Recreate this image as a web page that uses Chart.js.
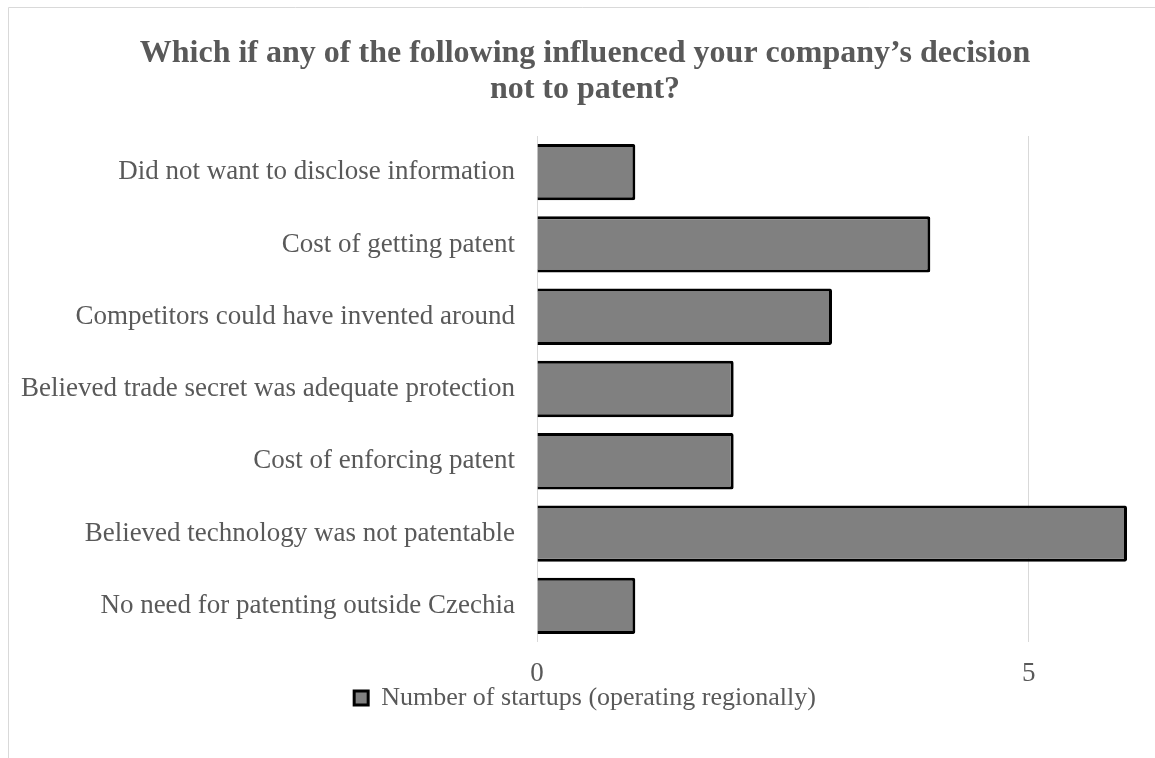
<!DOCTYPE html>
<meta charset="utf-8">
<title>Reasons for not patenting</title>
<style>
  html, body { margin: 0; background: #fff; overflow: hidden; }
  #wrap { width: 1155px; height: 758px; }
</style>
<div id="wrap"><canvas id="chart"></canvas></div>
<script src="https://cdn.jsdelivr.net/npm/chart.js@4"></script>
<script>
  const reasons = [
    "Did not want to disclose information",
    "Cost of getting patent",
    "Competitors could have invented around",
    "Believed trade secret was adequate protection",
    "Cost of enforcing patent",
    "Believed technology was not patentable",
    "No need for patenting outside Czechia",
  ]
  const startups = [1, 4, 3, 2, 2, 6, 1]
  const seriesName = "Number of startups (operating regionally)"
  const titleLines = ["Which if any of the following influenced your company\u2019s decision", "not to patent?"]

  const grey = "#595959"
  const serif = "'Liberation Serif', 'Times New Roman', serif"

  // light frame round the whole chart, cut off at right and bottom
  const frame = {
    id: "frame",
    beforeDraw(c) {
      const ctx = c.ctx
      ctx.save()
      ctx.strokeStyle = "#d9d9d9"
      ctx.lineWidth = 1
      ctx.beginPath()
      ctx.moveTo(8.5, c.height + 2)
      ctx.lineTo(8.5, 7.5)
      ctx.lineTo(c.width + 2, 7.5)
      ctx.stroke()
      ctx.restore()
    },
  }

  window.chart = new Chart(document.getElementById("chart"), {
    type: "bar",
    data: {
      labels: reasons,
      datasets: [{
        label: seriesName,
        data: startups,
        backgroundColor: "#808080",
        borderColor: "#000",
        borderWidth: 3,
        borderRadius: 2,
        barPercentage: 0.78,
        categoryPercentage: 1,
      }],
    },
    options: {
      indexAxis: "y",
      responsive: true,
      maintainAspectRatio: false,
      animation: false,
      layout: { padding: { left: 43, right: 28, top: 22, bottom: 37 } },
      scales: {
        x: {
          min: 0,
          max: 6,
          ticks: {
            stepSize: 5,
            color: grey,
            padding: 18,
            font: { family: serif, size: 27, lineHeight: 1 },
          },
          afterBuildTicks: s => { s.ticks = s.ticks.filter(t => t.value % 5 === 0) },
          afterFit: s => { s.height -= 20 },
          grid: { color: "#d9d9d9", lineWidth: 1, drawTicks: false },
          border: { display: false },
        },
        y: {
          ticks: {
            color: grey,
            padding: 22,
            font: { family: serif, size: 27 },
          },
          afterFit: s => { s.width = 494 },
          // long labels reach past the scale box; don't clip them
          afterUpdate: s => { s._computeLabelArea = () => undefined },
          grid: { display: false, drawTicks: false },
          border: { display: false },
        },
      },
      plugins: {
        title: {
          display: true,
          text: titleLines,
          color: grey,
          font: { family: serif, size: 32, weight: "bold", lineHeight: 1.125 },
          padding: { top: 14, bottom: 28 },
        },
        legend: {
          position: "bottom",
          labels: {
            color: grey,
            font: { family: serif, size: 26 },
            boxWidth: 14,
            boxHeight: 14,
            padding: 0,
            generateLabels: c => [{
              text: seriesName,
              fillStyle: "#808080",
              strokeStyle: "#000",
              fontColor: grey,
              lineWidth: 3,
              datasetIndex: 0,
            }],
          },
        },
        tooltip: { enabled: false },
      },
    },
    plugins: [frame],
  })
</script>
